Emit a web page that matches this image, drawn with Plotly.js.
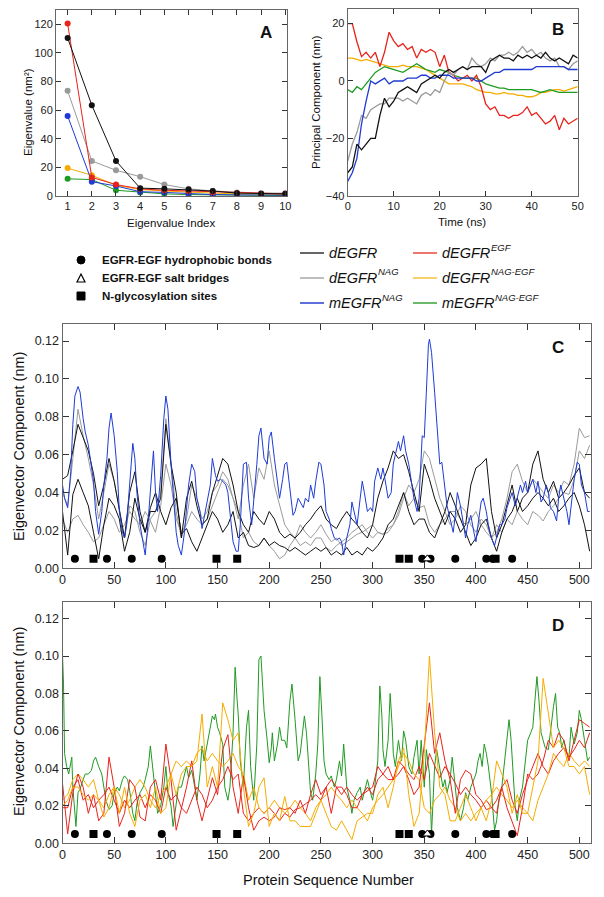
<!DOCTYPE html>
<html><head><meta charset="utf-8">
<script src="https://cdn.plot.ly/plotly-3.0.1.min.js"></script>
<style>html,body{margin:0;padding:0;background:#fff}#chart{width:604px;height:897px}</style>
</head><body><div id="chart"></div>
<script>
// ---------------- Panel A: eigenvalues ----------------
const eigIndex = [1,2,3,4,5,6,7,8,9,10];
const eigDEGFR      = [110.5,63.5,24.5,5.5,5,4.5,3.5,2,1.5,1.5];
const eigDEGFR_EGF  = [120.5,13,8,5,4,3.5,2.5,2,1.5,1.5];
const eigDEGFR_NAG  = [73.5,24.5,18,13.5,8,5,3.5,2.5,2,2];
const eigDEGFR_NAGEGF = [19.5,14.5,7.5,4.5,3.5,2.5,2,1.5,1.2,1];
const eigMEGFR_NAG  = [56,10,7,3,2.5,1.5,1,0.8,0.7,0.6];
const eigMEGFR_NAGEGF = [12,11.5,4,2.5,1.5,1,0.8,0.5,0.4,0.3];

// ---------------- Panel B: principal component vs time ----------------
const timeNs = [0,1,2,3,4,5,6,7,8,9,10,11,12,13,14,15,16,17,18,19,20,21,22,23,24,25,26,27,28,29,30,31,32,33,34,35,36,37,38,39,40,41,42,43,44,45,46,47,48,49,50];
const pcDEGFR = [-32,-30,-22,-24,-22,-20,-20,-12,-6,-9,-7,-4,-3,-2,-3,-4,-1,0,1,2,1,3,4,3,4,5,4,5,5,5,3,7,8,9,8,8,7,9,8,9,8,9,8,10,8,7,8,7,6,9,8];
const pcDEGFR_EGF = [20,20,13.7,8.5,10,8,10,5,10,17,14,12,13,11,12,8,11,10,11,10,5,9,3,2,0,1,2,0,2,-2,-8,-10,-9,-12,-12,-13,-12,-12,-11,-9,-12,-11,-13,-15,-14,-12,-17,-13,-15,-14,-13];
const pcDEGFR_NAG = [-28,-22,-18,-12,-13,-10,-9,-8,-8,-6,-6,-6,-7,-6,-7,-8,-5,-4,-5,-3,-4,0,3,2,4,5,4,8,6,5,6,8,7,9,9,10,9,10,12,10,11,9,10,8,7,8,5,5,4,6,7];
const pcDEGFR_NAGEGF = [8,8,7.5,7,7.5,7,6.5,6,5.5,5,5,5,5.5,5,5,5,4.5,4,3,2,1,0,-1,-1,-1,-1,-1.5,-2,-3,-3.5,-4,-4,-4.5,-4.5,-4,-4.5,-4.5,-5,-5,-5.5,-5.5,-5,-4,-4,-3.5,-3,-3,-3.5,-3,-2.5,-2];
const pcMEGFR_NAG = [-35,-32,-27,-15,-7,0,-1,0,1,-1,0,0,0,1,1,1,2,2,1,1,2,2,2,1,1,1,1,1,0,0,1,2,3,3,4,4,4,4,4,4,4,5,5,5,5,5,5,5,4,4,4];
const pcMEGFR_NAGEGF = [-3,-4,-2,-3,-1,1,3,4,5,4.5,4,3.5,3,4,5,6,5,4,3.5,3,4,3.5,3,2,1.5,1,1,1,1,0,-1,-1.5,-2,-2.5,-2.5,-3,-3,-3,-3,-3,-3,-3.5,-4,-3.5,-3,-3.5,-4,-4,-4,-4,-4];

// ---------------- Panels C/D: eigenvector components per residue ----------------
const resStep5 = [0,5,10,15,20,25,30,35,40,45,50,55,60,65,70,75,80,85,90,95,
 100,105,110,115,120,125,130,135,140,145,150,155,160,165,170,175,180,185,190,195,
 200,205,210,215,220,225,230,235,240,245,250,255,260,265,270,275,280,285,290,295,
 300,305,310,315,320,325,330,335,340,345,350,355,360,365,370,375,380,385,390,395,
 400,405,410,415,420,425,430,435,440,445,450,455,460,465,470,475,480,485,490,495,
 500,505,510];

const blackC1 = [.047,.049,.062,.076,.069,.062,.050,.033,.044,.058,
 .046,.030,.016,.040,.051,.030,.019,.030,.030,.037,
 .076,.055,.040,.016,.037,.046,.033,.023,.026,.040,
 .049,.058,.055,.044,.030,.023,.019,.030,.026,.023,
 .030,.026,.019,.016,.018,.016,.019,.023,.026,.030,
 .033,.026,.023,.021,.026,.030,.026,.023,.019,.016,
 .023,.037,.046,.053,.062,.058,.060,.051,.040,.030,
 .055,.047,.037,.030,.023,.030,.026,.019,.023,.044,
 .053,.055,.058,.030,.016,.023,.033,.044,.030,.037,
 .040,.055,.062,.047,.040,.046,.037,.040,.044,.049,
 .053,.040,.037];
const blackC2 = [.030,.007,.039,.047,.040,.033,.019,.005,.023,.037,
 .033,.026,.009,.019,.037,.026,.019,.032,.040,.030,
 .023,.032,.037,.018,.021,.014,.009,.016,.023,.030,
 .026,.019,.023,.030,.016,.019,.012,.011,.012,.016,
 .012,.014,.012,.011,.009,.011,.009,.007,.009,.011,
 .009,.011,.007,.009,.007,.011,.007,.009,.007,.011,
 .009,.012,.016,.023,.026,.033,.040,.030,.023,.026,
 .026,.019,.016,.023,.030,.040,.033,.026,.019,.012,
 .016,.023,.026,.016,.009,.019,.026,.030,.037,.030,
 .033,.037,.040,.037,.033,.037,.030,.033,.037,.040,
 .033,.023,.009];
const grayC1 = [.040,.033,.058,.084,.070,.058,.044,.026,.040,.055,
 .046,.030,.016,.033,.030,.019,.012,.026,.030,.040,
 .079,.055,.030,.016,.026,.044,.037,.026,.030,.040,
 .044,.051,.047,.037,.026,.044,.055,.037,.053,.047,
 .062,.044,.033,.023,.019,.016,.023,.019,.016,.019,
 .023,.018,.014,.016,.012,.014,.016,.018,.019,.021,
 .023,.019,.018,.019,.023,.028,.037,.044,.040,.047,
 .062,.058,.047,.037,.030,.023,.026,.033,.030,.023,
 .019,.026,.023,.016,.019,.026,.037,.051,.055,.046,
 .040,.047,.044,.040,.037,.044,.040,.046,.044,.055,
 .074,.069,.070];
const grayC2 = [.026,.019,.026,.028,.023,.019,.014,.016,.023,.030,
 .026,.019,.023,.030,.026,.023,.030,.025,.019,.033,
 .055,.044,.026,.019,.023,.030,.026,.023,.026,.033,
 .040,.047,.044,.037,.030,.016,.019,.014,.012,.016,
 .012,.009,.005,.007,.012,.016,.012,.014,.012,.016,
 .016,.011,.009,.012,.014,.016,.019,.021,.023,.019,
 .016,.019,.018,.021,.023,.030,.040,.033,.037,.032,
 .033,.023,.019,.023,.026,.030,.030,.026,.023,.026,
 .030,.023,.019,.016,.023,.019,.026,.023,.030,.026,
 .023,.030,.028,.025,.030,.033,.037,.040,.039,.047,
 .062,.058,.065];

const resBlueC = [0,2,5,8,10,12,15,17,20,22, 25,28,30,32,35,38,40,43,45,47,
 50,53,55,58,60,62,65,68,70,72, 75,78,80,82,85,88,90,92,95,98,
 100,102,105,108,110,112,115,118,120,122, 125,128,130,133,135,138,140,143,145,148,
 150,153,155,158,160,163,165,168,170,172, 175,178,180,183,185,188,190,192,195,198,
 200,202,205,208,210,213,215,217,220,223, 225,228,230,233,235,238,240,243,245,248,
 250,253,255,258,260,263,265,268,270,272, 275,278,280,282,285,288,290,292,295,298,
 300,302,305,308,310,312,315,318,320,322, 325,327,330,332,335,338,340,343,345,348,
 350,352,354,355,357,360,362,365,367,370, 372,375,378,380,382,385,388,390,392,395,
 398,400,402,405,407,410,412,415,418,420, 423,425,428,430,433,435,438,440,443,445,
 448,450,453,455,458,460,463,465,468,470, 472,475,478,480,482,485,488,490,492,495,
 498,500,502,505,508,510];
const blueC = [.044,.037,.032,.051,.076,.091,.096,.093,.079,.072, .065,.055,.046,.030,.018,.030,.044,.058,.074,.082,
 .070,.051,.030,.019,.016,.023,.046,.066,.058,.040, .023,.012,.007,.019,.040,.062,.040,.030,.049,.079,
 .091,.084,.055,.032,.019,.012,.007,.019,.030,.044, .055,.051,.037,.030,.021,.030,.035,.044,.058,.049,
 .046,.047,.046,.044,.040,.026,.014,.009,.009,.023, .055,.056,.037,.023,.035,.055,.070,.074,.058,.055,
 .069,.072,.058,.044,.037,.047,.055,.056,.042,.028, .030,.037,.035,.032,.037,.035,.044,.037,.046,.056,
 .055,.044,.030,.026,.021,.016,.015,.016,.014,.007, .016,.023,.035,.030,.023,.037,.046,.040,.030,.032,
 .030,.046,.053,.047,.053,.047,.037,.040,.055,.060, .067,.062,.070,.062,.055,.044,.037,.030,.037,.070,
 .069,.093,.118,.121,.114,.093,.076,.055,.056,.040, .033,.026,.019,.028,.040,.033,.023,.016,.023,.028,
 .019,.014,.023,.035,.037,.030,.023,.016,.012,.016, .023,.023,.026,.032,.037,.040,.033,.037,.044,.040,
 .046,.040,.044,.047,.040,.046,.035,.037,.044,.040, .032,.030,.025,.037,.044,.037,.030,.023,.033,.047,
 .056,.055,.044,.040,.030,.030];

const redD1 = [.032,.005,.027,.037,.030,.016,.026,.012,.016,.046,
 .030,.009,.016,.034,.030,.014,.012,.030,.034,.023,
 .053,.034,.007,.019,.030,.044,.023,.012,.023,.035,
 .026,.050,.058,.030,.016,.036,.019,.007,.012,.014,
 .012,.014,.019,.018,.019,.016,.023,.016,.026,.034,
 .026,.030,.016,.030,.030,.026,.019,.019,.026,.028,
 .030,.041,.037,.034,.034,.044,.041,.034,.026,.030,
 .053,.075,.048,.059,.044,.034,.016,.034,.039,.037,
 .026,.023,.018,.019,.016,.030,.019,.012,.004,.019,
 .037,.034,.037,.044,.055,.051,.059,.055,.044,.055,
 .066,.064,.062];
const redD2 = [.019,.019,.030,.034,.023,.026,.019,.023,.026,.030,
 .023,.016,.023,.019,.023,.026,.019,.026,.023,.016,
 .030,.023,.026,.019,.016,.023,.030,.026,.019,.023,
 .030,.034,.041,.034,.037,.016,.012,.016,.019,.016,
 .019,.016,.012,.016,.014,.018,.019,.021,.023,.026,
 .023,.030,.034,.030,.026,.030,.026,.023,.026,.030,
 .026,.034,.037,.041,.034,.037,.041,.037,.034,.041,
 .034,.048,.041,.035,.041,.037,.032,.026,.030,.026,
 .023,.019,.023,.019,.023,.030,.034,.023,.016,.026,
 .034,.041,.048,.041,.037,.044,.048,.051,.046,.050,
 .055,.051,.059];
const orangeD1 = [.020,.023,.030,.030,.026,.023,.026,.023,.014,.019,
 .030,.016,.030,.016,.009,.023,.026,.019,.030,.016,
 .019,.037,.026,.037,.041,.041,.044,.069,.030,.041,
 .030,.075,.066,.055,.059,.030,.009,.016,.030,.035,
 .009,.016,.012,.025,.012,.012,.009,.009,.009,.016,
 .023,.016,.009,.007,.012,.007,.002,.012,.014,.016,
 .016,.026,.030,.019,.030,.044,.051,.026,.009,.016,
 .048,.100,.059,.030,.026,.012,.012,.019,.026,.019,
 .012,.019,.012,.023,.044,.037,.030,.016,.026,.016,
 .016,.030,.044,.088,.070,.051,.055,.051,.041,.041,
 .037,.041,.026];
const orangeD2 = [.023,.026,.034,.037,.034,.030,.034,.023,.019,.026,
 .030,.026,.019,.023,.030,.034,.030,.023,.019,.026,
 .030,.037,.044,.041,.044,.041,.048,.051,.044,.048,
 .044,.041,.044,.048,.041,.037,.023,.030,.019,.016,
 .019,.023,.019,.016,.019,.023,.019,.016,.012,.019,
 .023,.026,.030,.026,.023,.019,.023,.019,.016,.012,
 .019,.023,.026,.030,.034,.041,.048,.044,.037,.034,
 .019,.016,.023,.026,.030,.023,.019,.012,.016,.012,
 .016,.019,.023,.026,.030,.026,.023,.019,.023,.019,
 .016,.012,.023,.030,.037,.048,.044,.041,.048,.044,
 .041,.044,.041];

const resGreenD = [0,1,2,4,6,8,9,10,12,13, 15,17,20,22,25,28,30,32,35,38,
 40,42,45,48,50,53,55,58,60,63, 65,68,70,72,75,78,80,83,85,87,
 90,92,95,98,100,102,105,107,110,112, 115,118,120,122,125,128,130,133,135,137,
 140,142,145,147,148,150,152,155,157,160, 162,165,167,169,170,172,175,178,180,182,
 185,188,190,192,193,195,198,200,202,203, 205,208,210,212,215,217,220,222,225,228,
 230,232,234,236,238,240,242,245,247,249, 251,253,255,258,260,263,265,268,270,272,
 275,278,280,282,285,288,290,292,295,298, 300,302,305,307,309,310,312,315,317,319,
 320,322,325,328,330,332,335,338,340,343, 345,347,350,352,355,357,360,362,365,368,
 370,372,375,377,380,382,385,388,390,392, 395,398,400,402,404,406,408,410,412,415,
 418,420,422,425,428,430,432,434,436,438, 440,442,445,448,450,453,455,457,459,461,
 463,465,467,470,472,475,477,479,481,483, 485,488,490,492,495,498,500,502,505,508,510];
const greenD = [.101,.085,.048,.041,.037,.044,.046,.030,.016,.009, .027,.029,.034,.037,.037,.039,.044,.046,.041,.037,
 .030,.023,.018,.020,.027,.030,.028,.034,.036,.034, .028,.016,.012,.021,.027,.030,.034,.041,.052,.041,
 .027,.016,.020,.030,.041,.027,.020,.009,.021,.030, .030,.037,.041,.035,.039,.030,.023,.037,.052,.044,
 .053,.059,.068,.066,.069,.062,.059,.053,.030,.023, .030,.059,.094,.076,.069,.044,.030,.062,.071,.041,
 .023,.053,.098,.100,.091,.071,.055,.043,.051,.059, .044,.053,.062,.055,.055,.051,.076,.085,.066,.044,
 .048,.059,.068,.059,.044,.027,.023,.037,.053,.089, .068,.044,.037,.034,.036,.030,.034,.044,.036,.053,
 .030,.023,.016,.023,.027,.030,.023,.028,.034,.027, .023,.030,.044,.084,.068,.050,.041,.055,.080,.062,
 .048,.041,.055,.044,.060,.055,.041,.037,.046,.055, .037,.055,.030,.050,.037,.005,.041,.050,.041,.030,
 .034,.027,.034,.046,.030,.019,.012,.019,.027,.023, .030,.034,.037,.044,.048,.041,.053,.048,.041,.027,
 .007,.012,.023,.030,.044,.055,.066,.055,.037,.019, .012,.023,.030,.044,.055,.059,.062,.076,.089,.076,
 .059,.055,.051,.050,.060,.073,.080,.062,.059,.051, .055,.048,.046,.062,.053,.059,.071,.066,.055,.044,.046];

// site annotations (residue numbers)
const hydrophobicRes = [12,43,67,96,348,356,380,410,416,435];
const saltBridgeRes = [353];
const glycoRes = [30,149,169,326,335,419];
const siteLevel = 0.005;

// ---------------- styling ----------------
const W = 604, H = 897;
const fx = p => p / W, fy = p => 1 - p / H;
const FONT = 'Arial, "Liberation Sans", Helvetica, sans-serif';
const COL = {black:'#111111', red:'#e8231c', gray:'#9a9a9a', orange:'#f5ac00', blue:'#1f3bd4', green:'#1f9a22'};

function axis(extra) {
  return Object.assign({
    showline:true, mirror:'ticks', linecolor:'#666', linewidth:1,
    ticks:'inside', ticklen:5, tickcolor:'#333', tickwidth:1,
    showgrid:false, zeroline:false,
    tickfont:{family:FONT, size:11, color:'#222'}
  }, extra);
}

const traces = [];
function eigTrace(y, c) {
  traces.push({x:eigIndex, y:y, xaxis:'x', yaxis:'y', mode:'lines+markers', type:'scatter',
    line:{color:c, width:1}, marker:{color:c, size:6}});
}
eigTrace(eigDEGFR_NAG, COL.gray);
eigTrace(eigMEGFR_NAGEGF, COL.green);
eigTrace(eigDEGFR_NAGEGF, COL.orange);
eigTrace(eigMEGFR_NAG, COL.blue);
eigTrace(eigDEGFR_EGF, COL.red);
eigTrace(eigDEGFR, COL.black);

function pcTrace(y, c) {
  traces.push({x:timeNs, y:y, xaxis:'x2', yaxis:'y2', mode:'lines', type:'scatter', line:{color:c, width:1.3}});
}
pcTrace(pcDEGFR_NAGEGF, COL.orange);
pcTrace(pcMEGFR_NAGEGF, COL.green);
pcTrace(pcDEGFR_EGF, COL.red);
pcTrace(pcDEGFR_NAG, COL.gray);
pcTrace(pcMEGFR_NAG, COL.blue);
pcTrace(pcDEGFR, COL.black);

function resTrace(x, y, c, ax) {
  traces.push({x:x, y:y, xaxis:'x'+ax, yaxis:'y'+ax, mode:'lines', type:'scatter', line:{color:c, width:1}});
}
resTrace(resStep5, grayC2, COL.gray, 3);
resTrace(resStep5, grayC1, COL.gray, 3);
resTrace(resStep5, blackC2, COL.black, 3);
resTrace(resStep5, blackC1, COL.black, 3);
resTrace(resBlueC, blueC, COL.blue, 3);

resTrace(resGreenD, greenD, COL.green, 4);
resTrace(resStep5, redD2, COL.red, 4);
resTrace(resStep5, orangeD2, COL.orange, 4);
resTrace(resStep5, redD1, COL.red, 4);
resTrace(resStep5, orangeD1, COL.orange, 4);

[3,4].forEach(ax => {
  traces.push({x:hydrophobicRes, y:hydrophobicRes.map(() => siteLevel), xaxis:'x'+ax, yaxis:'y'+ax,
    mode:'markers', type:'scatter', marker:{symbol:'circle', size:8, color:'#000'}});
  traces.push({x:glycoRes, y:glycoRes.map(() => siteLevel), xaxis:'x'+ax, yaxis:'y'+ax,
    mode:'markers', type:'scatter', marker:{symbol:'square', size:8, color:'#000'}});
  traces.push({x:saltBridgeRes, y:saltBridgeRes.map(() => siteLevel), xaxis:'x'+ax, yaxis:'y'+ax,
    mode:'markers', type:'scatter', marker:{symbol:'triangle-up', size:8, color:'#fff', line:{color:'#000', width:1}}});
});

// ---------------- annotations / legend ----------------
const ann = [];
function txt(t, x, y, size, opts, fontExtra) {
  ann.push(Object.assign({text:t, x:fx(x), y:fy(y), xref:'paper', yref:'paper', showarrow:false,
    xanchor:'center', yanchor:'middle',
    font:Object.assign({family:FONT, size:size, color:'#111'}, fontExtra || {})}, opts || {}));
}
const BOLD = {weight:'bold'}, ITAL = {style:'italic'};
txt('A', 266, 32, 17, null, BOLD);
txt('B', 558, 30, 17, null, BOLD);
txt('C', 558, 347, 17, null, BOLD);
txt('D', 558, 625, 17, null, BOLD);
txt('Eigenvalue (nm\u00B2)', 28, 112, 11.5, {textangle:-90});
txt('Eigenvalue Index', 171, 223, 11.5);
txt('Principal Component (nm)', 316, 102, 11.5, {textangle:-90});
txt('Time (ns)', 462, 222, 11.5);
txt('Eigenvector Component (nm)', 19, 447, 14.5, {textangle:-90});
txt('Eigenvector Component (nm)', 19, 722, 14.5, {textangle:-90});
txt('Protein Sequence Number', 328, 880, 14.5);

// site legend
txt('EGFR-EGF hydrophobic bonds', 100, 260, 11.5, {xanchor:'left'}, BOLD);
txt('EGFR-EGF salt bridges', 100, 278, 11.5, {xanchor:'left'}, BOLD);
txt('N-glycosylation sites', 100, 296, 11.5, {xanchor:'left'}, BOLD);
const shapes = [];
shapes.push({type:'circle', xref:'paper', yref:'paper', x0:fx(77), x1:fx(85), y0:fy(264), y1:fy(256), fillcolor:'#000', line:{color:'#000', width:1}});
shapes.push({type:'path', xref:'paper', yref:'paper', path:`M ${fx(77)} ${fy(282)} L ${fx(85)} ${fy(282)} L ${fx(81)} ${fy(274)} Z`, fillcolor:'#fff', line:{color:'#000', width:1.2}});
shapes.push({type:'rect', xref:'paper', yref:'paper', x0:fx(77), x1:fx(85), y0:fy(300), y1:fy(292), fillcolor:'#000', line:{color:'#000', width:1}});

// line legend (superscripts drawn as their own smaller text, placed after measured name width)
const LEG_SIZE = 14.5, SUP_SIZE = 9.5;
const measureCtx = document.createElement('canvas').getContext('2d');
function textWidth(s, size, style) {
  measureCtx.font = `${style || ''} ${size}px Arial, "Liberation Sans", sans-serif`;
  return measureCtx.measureText(s).width;
}
const legendItems = [
  ['dEGFR', '', '#333333', 300, 253],
  ['dEGFR', 'NAG', '#a8a8a8', 300, 278],
  ['mEGFR', 'NAG', '#2a3fd0', 300, 303],
  ['dEGFR', 'EGF', '#e8463d', 413, 253],
  ['dEGFR', 'NAG-EGF', '#f6c040', 413, 278],
  ['mEGFR', 'NAG-EGF', '#3aa33a', 413, 303]
];
legendItems.forEach(([name, sup, c, x, y]) => {
  shapes.push({type:'line', xref:'paper', yref:'paper', x0:fx(x), x1:fx(x + 24), y0:fy(y), y1:fy(y), line:{color:c, width:1.5}});
  txt(name, x + 27, y, LEG_SIZE, {xanchor:'left'}, ITAL);
  if (sup) {
    const w = textWidth(name, LEG_SIZE, 'italic');
    txt(sup, x + 27 + w + 1, y - 6, SUP_SIZE, {xanchor:'left'}, ITAL);
  }
});

const layout = {
  width:W, height:H, margin:{l:0, r:0, t:0, b:0}, showlegend:false,
  paper_bgcolor:'#fff', plot_bgcolor:'#fff', font:{family:FONT},
  xaxis:axis({domain:[fx(56), fx(287)], range:[0.52, 10.07], tickvals:eigIndex, anchor:'y'}),
  yaxis:axis({domain:[fy(196), fy(10)], range:[0, 130], tick0:0, dtick:20, anchor:'x'}),
  xaxis2:axis({domain:[fx(347.7), fx(577.7)], range:[0, 50], tick0:0, dtick:10, anchor:'y2'}),
  yaxis2:axis({domain:[fy(195.7), fy(9.3)], range:[-40, 25], tickvals:[-40,-20,0,20], anchor:'x2'}),
  xaxis3:axis({domain:[fx(62.5), fx(590.7)], range:[0, 511], tick0:0, dtick:50, anchor:'y3', ticklen:6, tickfont:{family:FONT, size:12.5, color:'#222'}}),
  yaxis3:axis({domain:[fy(568.3), fy(324)], range:[0, 0.129], tick0:0, dtick:0.02, tickformat:'.2f', anchor:'x3', ticklen:6, tickfont:{family:FONT, size:12.5, color:'#222'}}),
  xaxis4:axis({domain:[fx(62.5), fx(590.7)], range:[0, 511], tick0:0, dtick:50, anchor:'y4', ticklen:6, tickfont:{family:FONT, size:12.5, color:'#222'}}),
  yaxis4:axis({domain:[fy(843.3), fy(601.7)], range:[0, 0.129], tick0:0, dtick:0.02, tickformat:'.2f', anchor:'x4', ticklen:6, tickfont:{family:FONT, size:12.5, color:'#222'}}),
  annotations:ann, shapes:shapes
};

Plotly.newPlot('chart', traces, layout, {staticPlot:true, displayModeBar:false});
</script>
</body></html>
